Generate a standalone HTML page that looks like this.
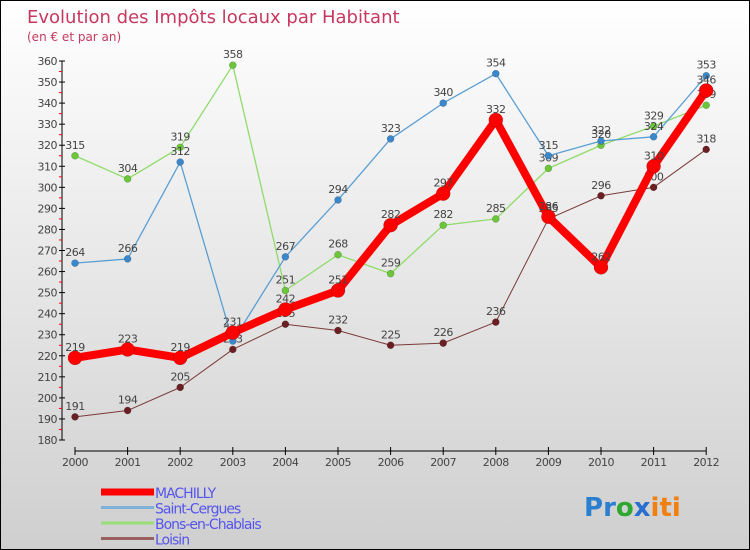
<!DOCTYPE html>
<html><head><meta charset="utf-8"><style>
body{margin:0}
#c{width:748px;height:548px;border:1px solid #000;background:linear-gradient(#ffffff,#cfcfcf);position:relative;overflow:hidden;font-family:"DejaVu Sans","Liberation Sans",sans-serif}
svg text{font-family:"DejaVu Sans","Liberation Sans",sans-serif}
</style></head><body>
<div id="c">
<svg id="s" width="748" height="548"></svg>
</div>
<script>
const years=[2000,2001,2002,2003,2004,2005,2006,2007,2008,2009,2010,2011,2012];
const machilly=[219,223,219,231,242,251,282,297,332,286,262,310,346];
const saintCergues=[264,266,312,227,267,294,323,340,354,315,322,324,353];
const bons=[315,304,319,358,251,268,259,282,285,309,320,329,339];
const loisin=[191,194,205,223,235,232,225,226,236,285,296,300,318];
const yTicks=[180,190,200,210,220,230,240,250,260,270,280,290,300,310,320,330,340,350,360];
const seriesNames=["MACHILLY","Saint-Cergues","Bons-en-Chablais","Loisin"];
const NS="http://www.w3.org/2000/svg";
const s=document.getElementById('s');
function X(i){return 74+i*52.6;}
function Y(v){return 439-(v-180)*379/180;}
function el(t,a,p){const e=document.createElementNS(NS,t);for(const k in a)e.setAttribute(k,a[k]);(p||s).appendChild(e);return e;}
function txt(x,y,str,a){const e=el('text',Object.assign({x:x,y:y},a));e.textContent=str;return e;}
// title
let t=txt(26,22,"Evolution des Impôts locaux par Habitant",{fill:"#c8385e","font-size":"18"});

t=txt(26,40,"(en € et par an)",{fill:"#c8385e","font-size":"12"});

// y axis
let ax=el('line',{x1:61,y1:Y(360),x2:61,y2:Y(180),stroke:"#000"});

yTicks.forEach((v,i)=>{
  el('line',{x1:58,y1:Y(v),x2:64,y2:Y(v),stroke:"#000"});
  if(i<yTicks.length-1)el('line',{x1:58,y1:Y(v+5),x2:61,y2:Y(v+5),stroke:"#f00"});
  const l=txt(56,Y(v)+4,String(v),{fill:"#444","font-size":"11","text-anchor":"end","letter-spacing":"-0.5"});
  
});
ax=el('line',{x1:X(0),y1:450,x2:X(12),y2:450,stroke:"#000"});

years.forEach((y,i)=>{
  el('line',{x1:X(i),y1:446,x2:X(i),y2:454,stroke:"#000"});
  const l=txt(X(i),465,String(y),{fill:"#444","font-size":"11","text-anchor":"middle","letter-spacing":"-0.5"});
  
});
function series(data,color,dot,w,r,name){
  const g=el('g',{});
  
  el('polyline',{points:data.map((v,i)=>X(i)+','+Y(v)).join(' '),fill:"none",stroke:color,"stroke-width":w,"stroke-linejoin":"round"},g);
  data.forEach((v,i)=>{
    const c=el('circle',{cx:X(i),cy:Y(v),r:r,fill:dot,stroke:"rgba(0,0,0,0.3)","stroke-width":0.5},g);
    
    const l=txt(X(i),Y(v)-7,String(v),{fill:"#444","font-size":"11","text-anchor":"middle","letter-spacing":"-0.5"},g);
    
  });
}
series(loisin,"#7a3a3a","#6b1f22",1,3.5,"loisin");
series(bons,"#8fdc6a","#6cc63a",1.3,3.5,"bons-en-chablais");
series(saintCergues,"#5a9fd4","#3a88cc",1.3,3.5,"saint-cergues");
series(machilly,"#ff0000","#ff0000",8,7,"machilly");
// legend
const lc=["#ff0000","#7fb0d8","#99dd77","#9a6060"],lw=[7,3,3,3];
seriesNames.forEach((n,i)=>{
  const y=491+i*15.5;
  const g=el('g',{});
  
  el('line',{x1:100,y1:y,x2:153,y2:y,stroke:lc[i],"stroke-width":lw[i]},g);
  txt(154,y+6,n,{fill:"#5555ee","font-size":"14","letter-spacing":"-1"},g);
});
// logo
const lg=el('text',{x:583,y:515,"font-size":"26","font-weight":"bold"});

[["P","#2a7fd0"],["r","#2a7fd0"],["o","#2ea830"],["x","#2a6fd0"],["i","#f08010"],["t","#f08010"],["i","#f08010"]].forEach(([c,f])=>{const ts=el('tspan',{fill:f},lg);ts.textContent=c;});
</script>
</body></html>
